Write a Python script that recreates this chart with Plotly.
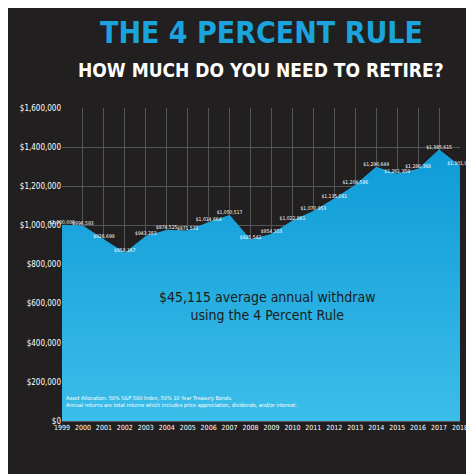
import plotly.graph_objects as go

years = list(range(1999, 2019))
values = [1000000, 996593, 926699, 858167, 943283, 974525, 971572, 1014664, 1050517, 925542,
          954353, 1022861, 1070953, 1135081, 1204586, 1296649, 1261359, 1286368, 1385615, 1301931]
labels = ["$" + format(v, ",") for v in values]
yticks = [0, 200000, 400000, 600000, 800000, 1000000, 1200000, 1400000, 1600000]
ytext = ["$0"] + ["$" + format(v, ",") for v in yticks[1:]]

F = "DejaVu Sans Condensed, sans-serif"
fig = go.Figure()
fig.add_trace(go.Scatter(
    x=years, y=values, mode="lines+text", fill="tozeroy",
    line=dict(color="#1aa3dc", width=1),
    fillgradient=dict(type="vertical", colorscale=[[0, "#3bbde9"], [1, "#0e9bd7"]]),
    text=labels, textposition="top center",
    textfont=dict(color="white", size=5, family=F), hoverinfo="skip", cliponaxis=False))
fig.update_layout(
    width=474, height=474, paper_bgcolor="#221f20", plot_bgcolor="#221f20",
    margin=dict(l=52, r=22, t=100, b=61), showlegend=False,
    xaxis=dict(range=[1999, 2018], tickvals=years, showgrid=True, gridcolor="#555", tickangle=0,
               tickfont=dict(color="white", size=7, family=F), zeroline=False,
               showline=True, linecolor="#555"),
    yaxis=dict(range=[0, 1600000], tickvals=yticks, ticktext=ytext, gridcolor="#555",
               tickfont=dict(color="white", size=8, family=F), zeroline=False),
    annotations=[
        dict(text="<b>THE 4 PERCENT RULE</b>", xref="paper", yref="paper", x=0.5, y=1.24, yanchor="middle",
             showarrow=False, font=dict(color="#1aa3dc", size=30, family=F)),
        dict(text="<b>HOW MUCH DO YOU NEED TO RETIRE?</b>", xref="paper", yref="paper", x=0.5, y=1.12,
             yanchor="middle", showarrow=False, font=dict(color="white", size=19, family=F)),
        dict(text="$45,115 average annual withdraw<br>using the 4 Percent Rule", x=2008.8, y=590000,
             showarrow=False, font=dict(color="#1b1b1b", size=14, family=F)),
        dict(text="Asset Allocation: 50% S&P 500 Index, 50% 10 Year Treasury Bonds.<br>"
                  "Annual returns are total returns which includes price appreciation, dividends, and/or interest.",
             x=1999.1, y=50000, xanchor="left", yanchor="bottom", align="left", showarrow=False,
             font=dict(color="white", size=5.5, family=F)),
    ])
fig.write_html("out.html")
